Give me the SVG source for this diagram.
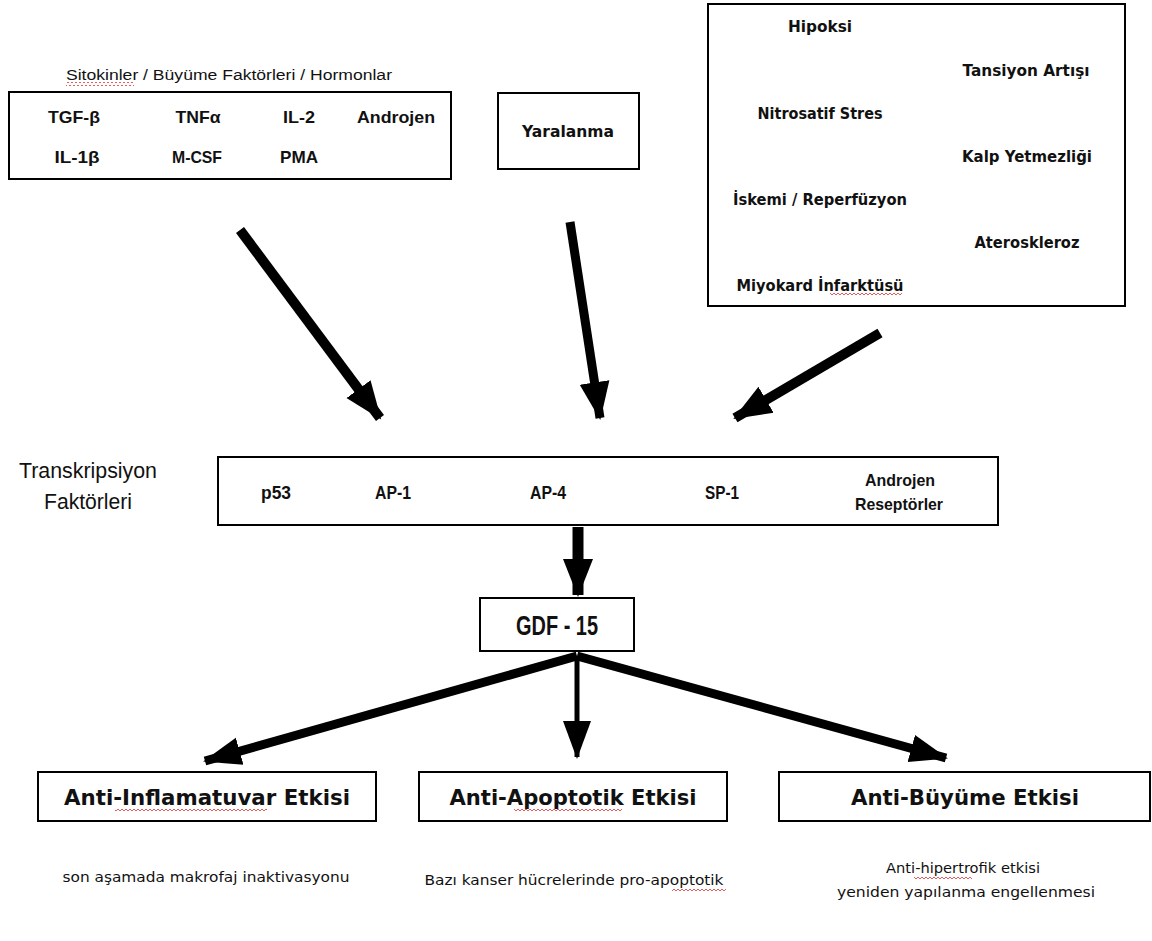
<svg xmlns="http://www.w3.org/2000/svg" width="1152" height="941" viewBox="0 0 1152 941">
<style>
.box{fill:#fff;stroke:#000;stroke-width:2}
.t{font-family:"Liberation Sans",Arial,sans-serif;fill:#111;text-anchor:middle}
.b{font-weight:bold}
.tb{font-family:"DejaVu Sans","Liberation Sans",sans-serif;font-weight:bold;fill:#111;text-anchor:middle}
.s{font-family:"DejaVu Sans","Liberation Sans",sans-serif;fill:#111;text-anchor:middle}
.ln{stroke:#000;fill:none}
</style>
<defs>
<marker id="ah" markerUnits="userSpaceOnUse" markerWidth="40" markerHeight="40" viewBox="0 0 40 40" refX="36" refY="20" orient="auto">
<path d="M0,5 L38,20 L0,35 Z" fill="#000"/>
</marker>
<marker id="ah2" markerUnits="userSpaceOnUse" markerWidth="40" markerHeight="40" viewBox="0 0 40 40" refX="36" refY="20" orient="auto">
<path d="M0,6 L38,20 L0,34 Z" fill="#000"/>
</marker>
<pattern id="wave" width="4" height="4" patternUnits="userSpaceOnUse">
<path d="M0,3 L2,1 L4,3" fill="none" stroke="#d33" stroke-width="0.8"/>
</pattern>
</defs>
<rect width="1152" height="941" fill="#fff"/>

<g id="sources-left">
<text class="t" x="229" y="80" font-size="14" textLength="326" lengthAdjust="spacingAndGlyphs">Sitokinler / Büyüme Faktörleri / Hormonlar</text>
<rect x="66" y="82" width="68" height="4" fill="url(#wave)"/>
<rect class="box" x="9" y="92" width="442" height="87"/>
<text class="t b" font-size="17" x="74" y="123" textLength="52" lengthAdjust="spacingAndGlyphs">TGF-β</text>
<text class="t b" font-size="17" x="198" y="123" textLength="45" lengthAdjust="spacingAndGlyphs">TNFα</text>
<text class="t b" font-size="17" x="299" y="123" textLength="32" lengthAdjust="spacingAndGlyphs">IL-2</text>
<text class="t b" font-size="17" x="396" y="123" textLength="78" lengthAdjust="spacingAndGlyphs">Androjen</text>
<text class="t b" font-size="17" x="77" y="163" textLength="45" lengthAdjust="spacingAndGlyphs">IL-1β</text>
<text class="t b" font-size="17" x="197" y="163" textLength="50" lengthAdjust="spacingAndGlyphs">M-CSF</text>
<text class="t b" font-size="17" x="299" y="163" textLength="38" lengthAdjust="spacingAndGlyphs">PMA</text>
</g>

<g id="yaralanma">
<rect class="box" x="498" y="93" width="141" height="76"/>
<text class="tb" font-size="16" x="568" y="137" textLength="92" lengthAdjust="spacingAndGlyphs">Yaralanma</text>
</g>

<g id="conditions">
<rect class="box" x="708" y="4" width="417" height="302"/>
<text class="tb" font-size="16" x="820" y="32" textLength="64" lengthAdjust="spacingAndGlyphs">Hipoksi</text>
<text class="tb" font-size="16" x="1026" y="76" textLength="127" lengthAdjust="spacingAndGlyphs">Tansiyon Artışı</text>
<text class="tb" font-size="16" x="820" y="119" textLength="125" lengthAdjust="spacingAndGlyphs">Nitrosatif Stres</text>
<text class="tb" font-size="16" x="1027" y="162" textLength="130" lengthAdjust="spacingAndGlyphs">Kalp Yetmezliği</text>
<text class="tb" font-size="16" x="820" y="205" textLength="174" lengthAdjust="spacingAndGlyphs">İskemi / Reperfüzyon</text>
<text class="tb" font-size="16" x="1027" y="248" textLength="105" lengthAdjust="spacingAndGlyphs">Ateroskleroz</text>
<text class="tb" font-size="16" x="820" y="291" textLength="167" lengthAdjust="spacingAndGlyphs">Miyokard İnfarktüsü</text>
<rect x="830" y="293" width="72" height="4" fill="url(#wave)"/>
</g>

<g id="transcription">
<text class="t" font-size="22" x="88" y="478" textLength="138" lengthAdjust="spacingAndGlyphs">Transkripsiyon</text>
<text class="t" font-size="22" x="88" y="509" textLength="88" lengthAdjust="spacingAndGlyphs">Faktörleri</text>
<rect class="box" x="218" y="457" width="780" height="68"/>
<text class="t b" font-size="18" x="276" y="499" textLength="30" lengthAdjust="spacingAndGlyphs">p53</text>
<text class="t b" font-size="18" x="393" y="499" textLength="36" lengthAdjust="spacingAndGlyphs">AP-1</text>
<text class="t b" font-size="18" x="548" y="499" textLength="36" lengthAdjust="spacingAndGlyphs">AP-4</text>
<text class="t b" font-size="18" x="722" y="499" textLength="34" lengthAdjust="spacingAndGlyphs">SP-1</text>
<text class="t b" font-size="17" x="900" y="486" textLength="70" lengthAdjust="spacingAndGlyphs">Androjen</text>
<text class="t b" font-size="17" x="899" y="510" textLength="88" lengthAdjust="spacingAndGlyphs">Reseptörler</text>
</g>

<g id="gdf15">
<rect class="box" x="480" y="598" width="154" height="53"/>
<text class="t b" font-size="27" x="557" y="635" textLength="82" lengthAdjust="spacingAndGlyphs">GDF - 15</text>
</g>

<g id="effect-inflam">
<rect class="box" x="38" y="772" width="338" height="49"/>
<text class="tb" font-size="22" x="207" y="805" textLength="286" lengthAdjust="spacingAndGlyphs">Anti-Inflamatuvar Etkisi</text>
<rect x="115" y="808" width="152" height="4" fill="url(#wave)"/>
<text class="s" font-size="14" x="206" y="882" textLength="287" lengthAdjust="spacingAndGlyphs">son aşamada makrofaj inaktivasyonu</text>
</g>

<g id="effect-apop">
<rect class="box" x="419" y="772" width="308" height="49"/>
<text class="tb" font-size="22" x="573" y="805" textLength="247" lengthAdjust="spacingAndGlyphs">Anti-Apoptotik Etkisi</text>
<rect x="514" y="808" width="108" height="4" fill="url(#wave)"/>
<text class="s" font-size="14" x="574" y="885" textLength="299" lengthAdjust="spacingAndGlyphs">Bazı kanser hücrelerinde pro-apoptotik</text>
<rect x="672" y="887" width="54" height="4" fill="url(#wave)"/>
</g>

<g id="effect-growth">
<rect class="box" x="779" y="772" width="371" height="49"/>
<text class="tb" font-size="22" x="965" y="805" textLength="228" lengthAdjust="spacingAndGlyphs">Anti-Büyüme Etkisi</text>
<text class="s" font-size="14" x="963" y="873" textLength="154" lengthAdjust="spacingAndGlyphs">Anti-hipertrofik etkisi</text>
<rect x="914" y="875" width="58" height="4" fill="url(#wave)"/>
<text class="s" font-size="14" x="966" y="897" textLength="258" lengthAdjust="spacingAndGlyphs">yeniden yapılanma engellenmesi</text>
</g>

<g id="connectors">
<line class="ln" x1="240" y1="230" x2="380" y2="418" stroke-width="10" marker-end="url(#ah)"/>
<line class="ln" x1="570" y1="222" x2="600" y2="418" stroke-width="9" marker-end="url(#ah)"/>
<line class="ln" x1="880" y1="333" x2="735" y2="418" stroke-width="10" marker-end="url(#ah)"/>
<line class="ln" x1="578" y1="527" x2="578" y2="595" stroke-width="11" marker-end="url(#ah)"/>
<line class="ln" x1="577" y1="656" x2="205" y2="761" stroke-width="9" marker-end="url(#ah2)"/>
<line class="ln" x1="577" y1="656" x2="577" y2="757" stroke-width="5" marker-end="url(#ah2)"/>
<line class="ln" x1="577" y1="656" x2="946" y2="758" stroke-width="9" marker-end="url(#ah2)"/>
</g>
</svg>
